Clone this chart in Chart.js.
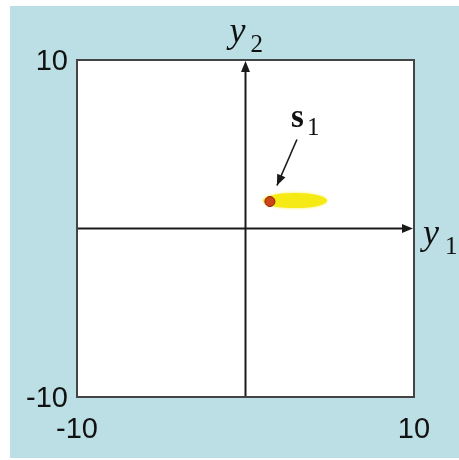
<!DOCTYPE html>
<html>
<head>
<meta charset="utf-8">
<script src="https://cdn.jsdelivr.net/npm/chart.js@4.4.1/dist/chart.umd.min.js"></script>
<style>
  html, body { margin: 0; padding: 0; background: #ffffff; }
  #wrap { width: 459px; height: 460px; position: relative; }
</style>
</head>
<body>
<div id="wrap"><canvas id="c" width="459" height="460"></canvas></div>
<script>
// ---- data ----
const tickValues = [-10, 10];
const axisRange = [-10, 10];
const signalX = [1.45];
const signalY = [1.6];
const cloudCenter = [2.94, 1.66];
const cloudRadius = [1.9, 0.45];
const signalLabel = ['s', '1'];
const xAxisLabel = ['y', '1'];
const yAxisLabel = ['y', '2'];

const BG = '#bbdfe4';

const decorPlugin = {
  id: 'decor',
  beforeDraw(chart) {
    const ctx = chart.ctx;
    ctx.save();
    ctx.fillStyle = '#ffffff';
    ctx.fillRect(0, 0, chart.width, chart.height);
    ctx.fillStyle = BG;
    ctx.fillRect(10, 6, chart.width - 10, chart.height - 8);
    const a = chart.chartArea;
    ctx.fillStyle = '#ffffff';
    ctx.fillRect(a.left, a.top, a.right - a.left, a.bottom - a.top);
    ctx.restore();
  },
  beforeDatasetsDraw(chart) {
    const ctx = chart.ctx;
    const a = chart.chartArea;
    const xs = chart.scales.x, ys = chart.scales.y;
    ctx.save();
    // cloud
    const cx = xs.getPixelForValue(cloudCenter[0]);
    const cy = ys.getPixelForValue(cloudCenter[1]);
    const rx = Math.abs(xs.getPixelForValue(cloudCenter[0] + cloudRadius[0]) - cx);
    const ry = Math.abs(ys.getPixelForValue(cloudCenter[1] + cloudRadius[1]) - cy);
    ctx.fillStyle = '#f6ea14';
    ctx.shadowColor = 'rgba(246,234,20,0.8)';
    ctx.shadowBlur = 3;
    ctx.beginPath();
    ctx.ellipse(cx, cy, rx, ry, 0, 0, Math.PI * 2);
    ctx.fill();
    ctx.shadowBlur = 0;
    // axes arrows
    const x0 = xs.getPixelForValue(0);
    const y0 = ys.getPixelForValue(0);
    ctx.strokeStyle = '#1a1a1a';
    ctx.fillStyle = '#1a1a1a';
    ctx.lineWidth = 2;
    ctx.beginPath();
    ctx.moveTo(a.left, y0);
    ctx.lineTo(a.right - 8, y0);
    ctx.moveTo(x0, a.bottom);
    ctx.lineTo(x0, a.top + 8);
    ctx.stroke();
    ctx.beginPath();
    ctx.moveTo(a.right - 1, y0);
    ctx.lineTo(a.right - 12, y0 - 4.5);
    ctx.lineTo(a.right - 12, y0 + 4.5);
    ctx.closePath();
    ctx.fill();
    ctx.beginPath();
    ctx.moveTo(x0, a.top + 1);
    ctx.lineTo(x0 - 4.5, a.top + 12);
    ctx.lineTo(x0 + 4.5, a.top + 12);
    ctx.closePath();
    ctx.fill();
    // border
    ctx.strokeStyle = '#444444';
    ctx.lineWidth = 2;
    ctx.strokeRect(a.left, a.top, a.right - a.left, a.bottom - a.top);
    ctx.restore();
  },
  afterDraw(chart) {
    const ctx = chart.ctx;
    const xs = chart.scales.x, ys = chart.scales.y;
    const a = chart.chartArea;
    const x0 = xs.getPixelForValue(0);
    const y0 = ys.getPixelForValue(0);
    ctx.save();
    ctx.fillStyle = '#111111';
    ctx.textBaseline = 'alphabetic';
    ctx.textAlign = 'left';
    // y2 label
    ctx.font = 'italic 36px "Liberation Serif", "DejaVu Serif", serif';
    ctx.fillText(yAxisLabel[0], x0 - 16, 42);
    ctx.font = '25px "Liberation Serif", serif';
    ctx.fillText(yAxisLabel[1], x0 + 5, 52);
    // y1 label
    ctx.font = 'italic 36px "Liberation Serif", "DejaVu Serif", serif';
    ctx.fillText(xAxisLabel[0], a.right + 9, y0 + 15);
    ctx.font = '25px "Liberation Serif", serif';
    ctx.fillText(xAxisLabel[1], a.right + 31, y0 + 25);
    // signal label + arrow
    const px = xs.getPixelForValue(signalX[0]);
    const py = ys.getPixelForValue(signalY[0]);
    ctx.font = 'bold 33px "Liberation Serif", serif';
    ctx.fillText(signalLabel[0], px + 21, py - 75);
    ctx.font = '25px "Liberation Serif", serif';
    ctx.fillText(signalLabel[1], px + 37, py - 67);
    const tx = px + 27, ty = py - 62;
    const hx = px + 7, hy = py - 16;
    ctx.strokeStyle = '#1a1a1a';
    ctx.lineWidth = 1.6;
    ctx.beginPath();
    ctx.moveTo(tx, ty);
    ctx.lineTo(hx, hy);
    ctx.stroke();
    const ang = Math.atan2(hy - ty, hx - tx);
    ctx.beginPath();
    ctx.moveTo(hx, hy);
    ctx.lineTo(hx - 11 * Math.cos(ang) + 4.5 * Math.sin(ang), hy - 11 * Math.sin(ang) - 4.5 * Math.cos(ang));
    ctx.lineTo(hx - 11 * Math.cos(ang) - 4.5 * Math.sin(ang), hy - 11 * Math.sin(ang) + 4.5 * Math.cos(ang));
    ctx.closePath();
    ctx.fillStyle = '#1a1a1a';
    ctx.fill();
    ctx.restore();
  }
};

const tickFont = { family: '"Liberation Sans", Arial, sans-serif', size: 29 };

new Chart(document.getElementById('c'), {
  type: 'scatter',
  data: {
    datasets: [{
      data: signalX.map((x, i) => ({ x: x, y: signalY[i] })),
      backgroundColor: '#cc4418',
      borderColor: '#8a1f08',
      borderWidth: 1,
      pointRadius: 5,
      pointHoverRadius: 5
    }]
  },
  options: {
    responsive: false,
    animation: false,
    events: [],
    layout: { padding: { left: 0, top: 60, right: 45, bottom: 0 } },
    plugins: { legend: { display: false }, tooltip: { enabled: false } },
    scales: {
      x: {
        type: 'linear', min: axisRange[0], max: axisRange[1],
        grid: { display: false, drawTicks: false },
        border: { display: false },
        ticks: { color: '#111', font: tickFont, padding: 16, maxRotation: 0 },
        afterBuildTicks(s) { s.ticks = tickValues.map(v => ({ value: v })); },
        afterFit(s) { s.height = 63; }
      },
      y: {
        type: 'linear', min: axisRange[0], max: axisRange[1],
        grid: { display: false, drawTicks: false },
        border: { display: false },
        ticks: { color: '#111', font: tickFont, padding: 9, labelOffset: 2 },
        afterBuildTicks(s) { s.ticks = tickValues.map(v => ({ value: v })); },
        afterFit(s) { s.width = 77; }
      }
    }
  },
  plugins: [decorPlugin]
});
</script>
</body>
</html>
